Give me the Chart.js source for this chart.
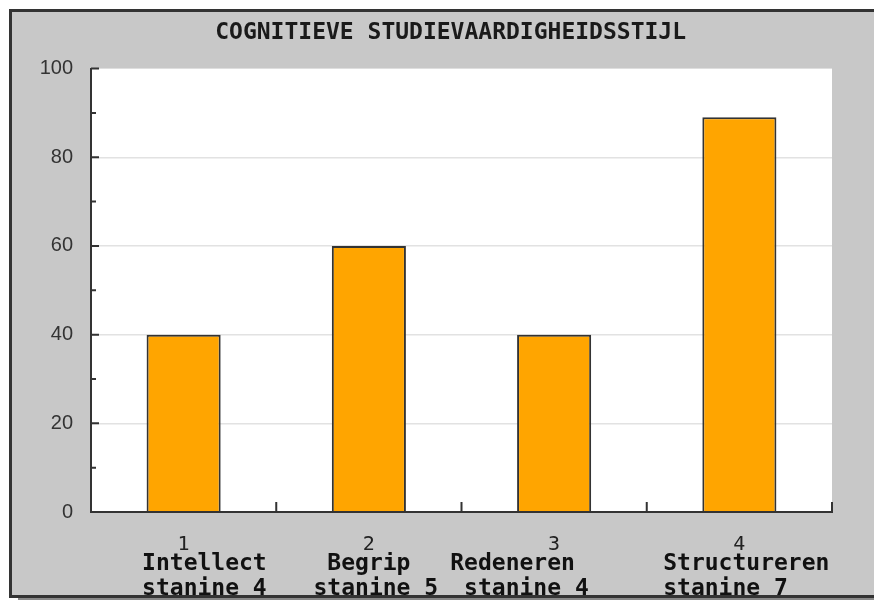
<!DOCTYPE html>
<html lang="nl">
<head>
  <meta charset="UTF-8">
  <title>Cognitieve studievaardigheidsstijl</title>
  <script src="https://cdn.jsdelivr.net/npm/chart.js"></script>
  <style>
    body {
      margin: 0;
      background: #ffffff;
    }
    #wrap {
      position: absolute;
      left: 0;
      top: 0;
      width: 874px;
      height: 601px;
    }
  </style>
</head>
<body>
  <div id="wrap">
    <canvas id="stijlChart" width="874" height="601"></canvas>
  </div>

  <script>
    // nummers onder de staven
    const categories = ['1', '2', '3', '4'];
    // schaalnamen + stanine (spaties schuiven de regels net als in het origineel)
    const scaleNames = [
      ['   Intellect', '   stanine 4'],
      ['Begrip', ' stanine 5'],
      ['Redeneren      ', 'stanine 4    '],
      [' Structureren', 'stanine 7  ']
    ];
    const scores = [40, 60, 40, 89];
    const yTicks = [0, 20, 40, 60, 80, 100];

    const AXIS = '#333333';

    // grijs paneel, witte plotzone, naar binnen wijzende streepjes en rand
    const panelPlugin = {
      id: 'panel',
      beforeDraw(chart) {
        const { ctx, width, height, chartArea: a } = chart;
        ctx.save();
        ctx.fillStyle = '#ffffff';
        ctx.fillRect(0, 0, width, height);
        ctx.fillStyle = '#c8c8c8';
        ctx.fillRect(9, 9, width - 9, 589);
        ctx.fillStyle = '#ffffff';
        ctx.fillRect(a.left, a.top, a.right - a.left, a.bottom - a.top);
        ctx.restore();
      },
      afterDatasetsDraw(chart) {
        const { ctx, chartArea: a } = chart;
        const y = chart.scales.y;
        const x = chart.scales.x;
        const base = y.getPixelForValue(0);
        ctx.save();
        ctx.strokeStyle = AXIS;
        ctx.lineWidth = 2;
        ctx.beginPath();
        // x-as opnieuw over de staven
        ctx.moveTo(a.left - 1, base);
        ctx.lineTo(a.right + 1, base);
        // y-streepjes: groot op de labels, klein ertussen
        yTicks.forEach((v, i) => {
          const py = y.getPixelForValue(v);
          ctx.moveTo(a.left, py);
          ctx.lineTo(a.left + 8, py);
          if (i < yTicks.length - 1) {
            const pm = y.getPixelForValue((v + yTicks[i + 1]) / 2);
            ctx.moveTo(a.left, pm);
            ctx.lineTo(a.left + 5, pm);
          }
        });
        // x-streepjes op de grenzen tussen categorieën
        const step = (a.right - a.left) / categories.length;
        for (let i = 1; i <= categories.length; i++) {
          const px = x.left + step * i;
          ctx.moveTo(px, base);
          ctx.lineTo(px, base - 10);
        }
        ctx.stroke();
        ctx.restore();
      },
      afterDraw(chart) {
        const { ctx, width } = chart;
        ctx.save();
        ctx.fillStyle = '#888888';
        ctx.fillRect(18, 598, width - 18, 2);
        ctx.fillStyle = '#333333';
        ctx.fillRect(9, 9, width - 9, 3);
        ctx.fillRect(9, 9, 3, 589);
        ctx.fillRect(9, 595, width - 9, 3);
        ctx.restore();
      }
    };

    const ctx = document.getElementById('stijlChart').getContext('2d');

    new Chart(ctx, {
      type: 'bar',
      data: {
        labels: categories,
        datasets: [{
          data: scores,
          backgroundColor: '#ffa500',
          borderColor: '#333333',
          borderWidth: 2,
          barPercentage: 0.4,
          categoryPercentage: 1.0
        }]
      },
      options: {
        responsive: false,
        animation: false,
        layout: {
          padding: { left: 0, right: 42, top: 0, bottom: 0 }
        },
        scales: {
          y: {
            min: 0,
            max: 100,
            afterBuildTicks: s => { s.ticks = yTicks.map(v => ({ value: v })); },
            afterFit: s => { s.width = 91; },
            grid: {
              color: c => (c.tick && (c.tick.value === 0 || c.tick.value === 100)) ? 'rgba(0,0,0,0)' : '#e2e2e2',
              lineWidth: 1.5,
              drawTicks: false
            },
            border: { color: AXIS, width: 2 },
            ticks: {
              padding: 18,
              color: '#333333',
              font: { family: 'Liberation Sans', size: 20 }
            }
          },
          x: {
            offset: true,
            afterFit: s => { s.height = 40; },
            grid: { display: false, drawTicks: false },
            border: { color: AXIS, width: 2 },
            ticks: {
              padding: 21,
              color: '#222222',
              font: { family: 'DejaVu Sans Mono', size: 20, lineHeight: 1.2 }
            }
          },
          x2: {
            type: 'category',
            position: 'bottom',
            labels: scaleNames,
            offset: true,
            afterFit: s => { s.height = 49; },
            grid: { display: false, drawTicks: false },
            border: { display: false },
            ticks: {
              padding: 0,
              color: '#111111',
              maxRotation: 0,
              autoSkip: false,
              font: { family: 'DejaVu Sans Mono', size: 23, weight: 'bold', lineHeight: '25px' }
            }
          }
        },
        plugins: {
          legend: { display: false },
          tooltip: { enabled: false },
          title: {
            display: true,
            text: '     COGNITIEVE STUDIEVAARDIGHEIDSSTIJL',
            color: '#1a1a1a',
            font: { family: 'DejaVu Sans Mono', size: 23, weight: 'bold', lineHeight: 1.2 },
            padding: { top: 19, bottom: 22 }
          }
        }
      },
      plugins: [panelPlugin]
    });
  </script>
</body>
</html>
